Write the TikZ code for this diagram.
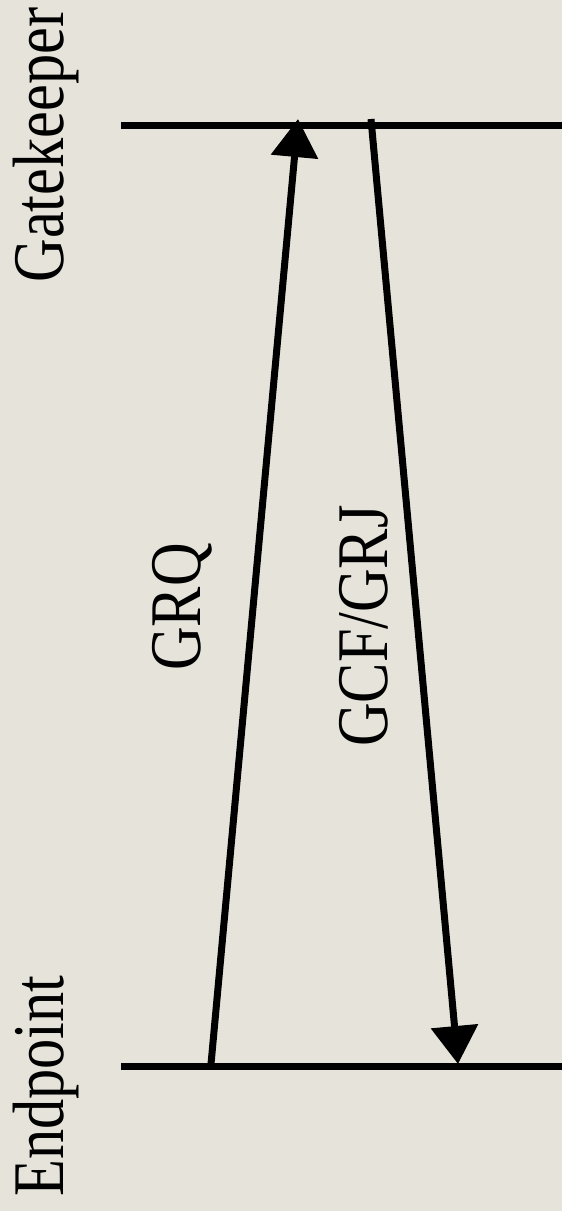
\documentclass[tikz,border=0pt]{standalone}
\usepackage{fontspec}
\newfontfamily\seqfont[FakeStretch=0.83]{Liberation Serif}
\usetikzlibrary{arrows.meta}
\definecolor{paper}{RGB}{230,228,218}

\begin{document}
\begin{tikzpicture}[
  x=0.02cm, y=-0.02cm,
  actor/.style={font=\seqfont\fontsize{41.4}{48}\selectfont, rotate=90, anchor=base, inner sep=0pt},
  msg/.style={font=\seqfont\fontsize{41.4}{48}\selectfont, rotate=90, anchor=base, inner sep=0pt},
  lifeline/.style={draw=black, line width=7*0.02cm},
  msgarrow/.style={draw=black, line width=7*0.02cm, -{Triangle[length=38*0.02cm, width=46*0.02cm]}}
]

\useasboundingbox[fill=paper] (0,0) rectangle (562,1211);

\node[actor] (gk) at (63,145) {Gatekeeper};
\node[actor] (ep) at (63,1086) {Endpoint};

\coordinate (gkL) at (121,125.5);
\coordinate (gkR) at (562,125.5);
\coordinate (epL) at (121,1066.5);
\coordinate (epR) at (562,1066.5);
\draw[lifeline] (gkL) -- (gkR);
\draw[lifeline] (epL) -- (epR);

\coordinate (grqS) at (211,1064);
\coordinate (grqE) at (298,119);
\coordinate (gcfS) at (371,119);
\coordinate (gcfE) at (458,1064);
\draw[msgarrow] (grqS) -- (grqE);
\draw[msgarrow] (gcfS) -- (gcfE);

\node[msg] (grq) at (200,607) {GRQ};
\node[msg] (gcf) at (387,626) {GCF/GRJ};

\end{tikzpicture}
\end{document}
